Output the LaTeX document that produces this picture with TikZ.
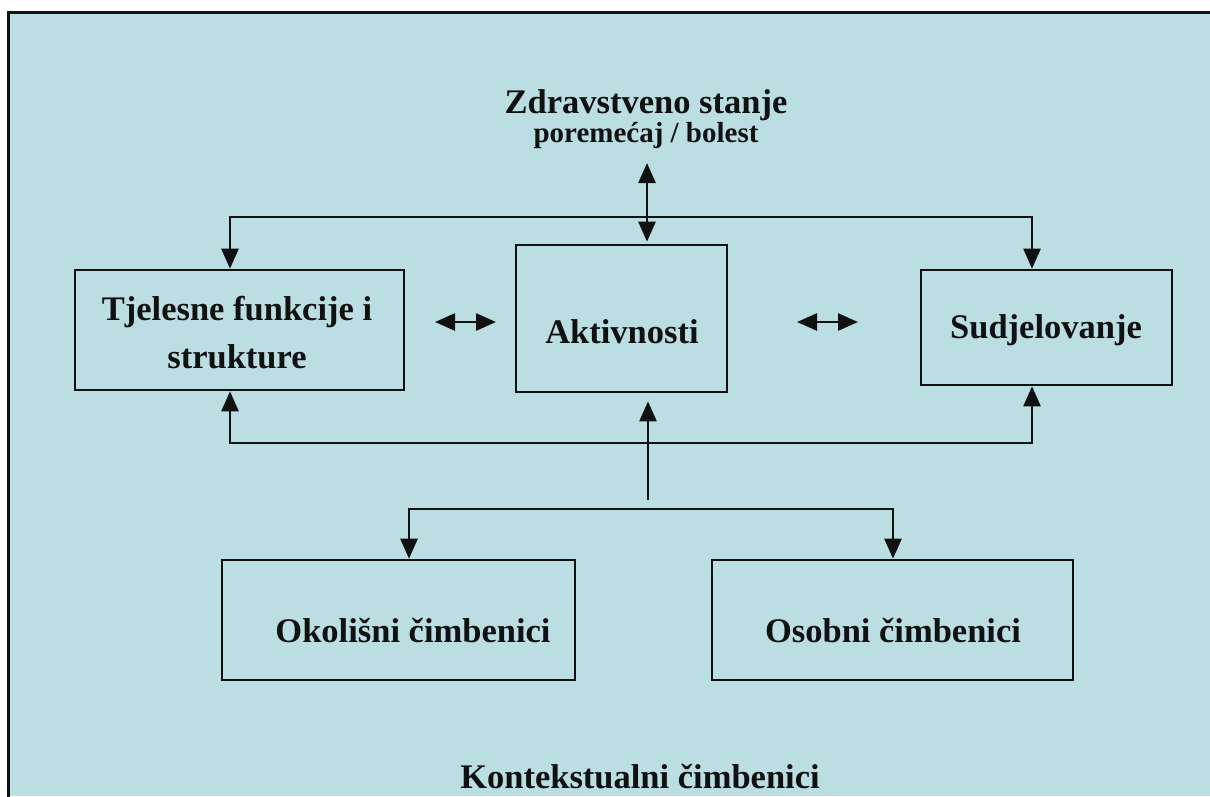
\documentclass[tikz,border=0pt]{standalone}
\usepackage{fontspec}
\setmainfont{Liberation Serif}
\usetikzlibrary{arrows.meta,calc}
\definecolor{bg}{RGB}{186,222,226}
\definecolor{ink}{RGB}{17,17,17}
\begin{document}
\begin{tikzpicture}[x=1pt,y=-1pt,
  line width=2.6pt, draw=ink,
  box/.style={draw=ink, line width=2.6pt, rectangle, inner sep=0pt},
  lbl/.style={font=\bfseries\fontsize{34.5}{48}\selectfont, text=ink, align=center, inner sep=0pt},
  tip/.style={-{Triangle[length=20pt,width=17pt]}},
  dtip/.style={{Triangle[length=20pt,width=17pt]}-{Triangle[length=20pt,width=17pt]}}]
\useasboundingbox (0,0) rectangle (1210,796);
\fill[white] (0,0) rectangle (1210,796);
\fill[bg] (8,12) rectangle (1210,796);
\draw[line width=3pt, line cap=rect] (8,796) -- (8,12) -- (1210,12);

% boxes
\node[box, minimum width=329pt, minimum height=120pt] (L) at (239.5,330) {};
\node[box, minimum width=211pt, minimum height=147pt] (M) at (621.5,318.5) {};
\node[box, minimum width=251pt, minimum height=115pt] (R) at (1046.5,327.5) {};
\node[box, minimum width=353pt, minimum height=120pt] (BL) at (398.5,620) {};
\node[box, minimum width=361pt, minimum height=120pt] (BR) at (892.5,620) {};

% labels
\node[lbl] (Lt) at (237,333) {Tjelesne funkcije i\\strukture};
\node[lbl] (Mt) at (622,332) {Aktivnosti};
\node[lbl] (Rt) at (1046,330) {Sudjelovanje};
\node[lbl] (BLt) at (413,630) {Okolišni čimbenici};
\node[lbl] (BRt) at (893,630) {Osobni čimbenici};
\node[lbl] (T1) at (646,105) {Zdravstveno stanje};
\node[lbl, font=\bfseries\fontsize{29}{34}\selectfont] (T2) at (646,136) {poremećaj / bolest};
\node[lbl] (K) at (640,777) {Kontekstualni čimbenici};

% top bus
\coordinate (tl) at (230,217);
\coordinate (tr) at (1032,217);
\draw[dtip] (tl |- L.north) -- (tl) -- (tr) -- (tr |- R.north);

% vertical double arrow
\coordinate (vtop) at (647,163);
\draw[dtip, shorten >=2pt] (vtop) -- (vtop |- M.north);

% horizontal double arrows
\coordinate (h1a) at (435,322);
\coordinate (h1b) at (496,322);
\coordinate (h2a) at (797,322);
\coordinate (h2b) at (858,322);
\draw[dtip] (h1a) -- (h1b);
\draw[dtip] (h2a) -- (h2b);

% bottom bus
\coordinate (bl) at (230,443);
\coordinate (br) at (1032,443);
\draw[dtip] (bl |- L.south) -- (bl) -- (br) -- (br |- R.south);

% up arrow from context
\coordinate (up) at (648,500);
\draw[tip, shorten >=8pt] (up) -- (up |- M.south);

% split to bottom boxes
\coordinate (sl) at (409,509);
\coordinate (sr) at (893,509);
\draw[dtip] (sl |- BL.north) -- (sl) -- (sr) -- (sr |- BR.north);
\end{tikzpicture}
\end{document}
